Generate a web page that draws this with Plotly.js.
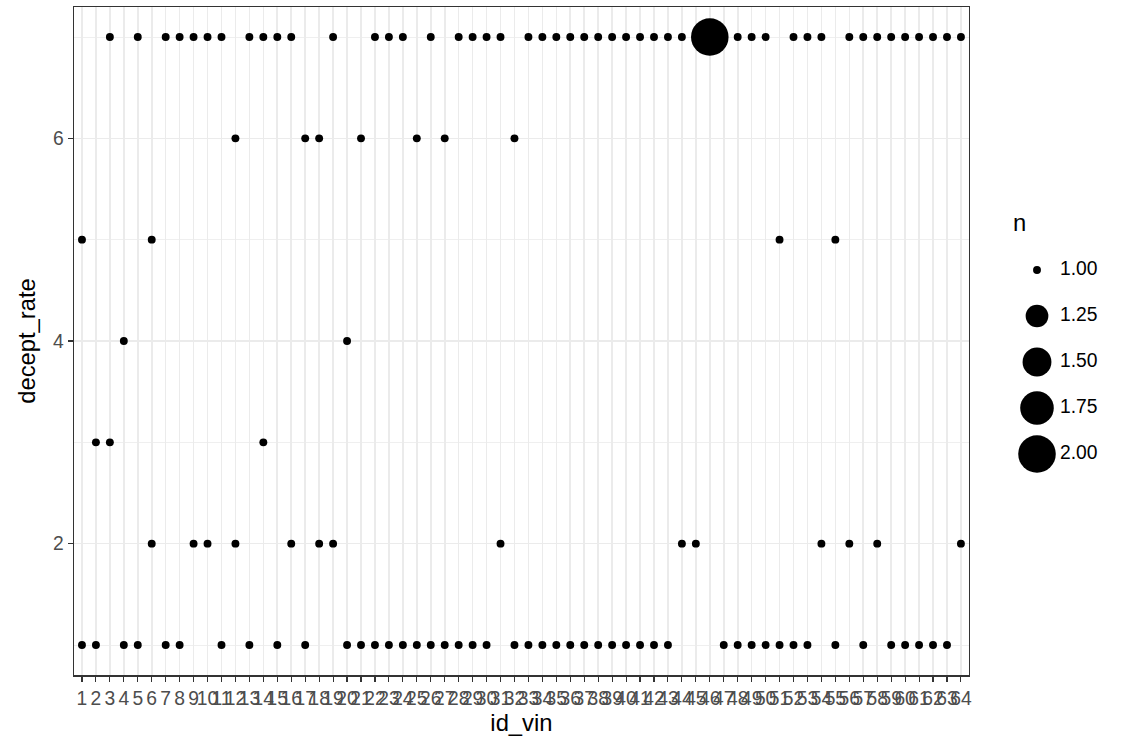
<!DOCTYPE html>
<html>
<head>
<meta charset="utf-8">
<script src="https://cdn.plot.ly/plotly-3.0.1.min.js"></script>
<style>html,body{margin:0;padding:0;background:#fff;}#chart{width:1131px;height:749px;}</style>
</head>
<body>
<div id="chart"></div>
<script>
// ---- data ----
const rate7Ids = [3,5,7,8,9,10,11,13,14,15,16,19,22,23,24,26,28,29,30,31,33,34,35,36,37,38,39,40,41,42,43,44,46,48,49,50,52,53,54,56,57,58,59,60,61,62,63,64];
const rate6Ids = [12,17,18,21,25,27,32];
const rate5Ids = [1,6,51,55];
const rate4Ids = [4,20];
const rate3Ids = [2,3,14];
const rate2Ids = [6,9,10,12,16,18,19,31,44,45,54,56,58,64];
const rate1Ids = [1,2,4,5,7,8,11,13,15,17,20,21,22,23,24,25,26,27,28,29,30,32,33,34,35,36,37,38,39,40,41,42,43,47,48,49,50,51,52,53,55,57,59,60,61,62,63];
// counts n: all 1 except the (id 46, rate 7) pair which occurs twice
const nDouble = [{id:46, rate:7, n:2}];
const idTicks = Array.from({length:64}, (_, i) => i + 1);
const yTicks = [2, 4, 6];
const legendN = [1.00, 1.25, 1.50, 1.75, 2.00];
const legendLabels = ["1.00", "1.25", "1.50", "1.75", "2.00"];

// ---- build points ----
const byRate = {7:rate7Ids, 6:rate6Ids, 5:rate5Ids, 4:rate4Ids, 3:rate3Ids, 2:rate2Ids, 1:rate1Ids};
const xs = [], ys = [], ns = [];
Object.keys(byRate).forEach(r => {
  byRate[r].forEach(id => {
    const d = nDouble.find(o => o.id === id && o.rate === +r);
    xs.push(id); ys.push(+r); ns.push(d ? d.n : 1);
  });
});
// ggplot-like area size scale, range 1..6 (mm) -> px diameter
const nMin = 1, nMax = 2;
function sizePx(n) {
  const s = 1 + 5 * Math.sqrt((n - nMin) / (nMax - nMin));
  return s * 5.93 + 1.97;
}

const W = 1131, H = 749;
const px = (p) => p / W;
const py = (p) => 1 - p / H;

const FONT = "Liberation Sans, Arial, sans-serif";
const TICK = 19.3, TITLE = 23.8;

const traces = [
  {
    type: "scatter", mode: "markers", x: xs, y: ys,
    marker: {color: "#000000", opacity: 1, size: ns.map(sizePx), line: {width: 0}},
    xaxis: "x", yaxis: "y", showlegend: false, hoverinfo: "x+y"
  },
  {
    type: "scatter", mode: "markers", x: legendN.map(() => 37), y: legendN,
    marker: {color: "#000000", opacity: 1, size: legendN.map(sizePx), line: {width: 0}},
    xaxis: "x2", yaxis: "y2", showlegend: false, hoverinfo: "skip"
  },
  {
    type: "scatter", mode: "text", x: legendN.map(() => 60), y: legendN,
    text: legendLabels, textposition: "middle right",
    textfont: {family: FONT, size: TICK, color: "#000000"},
    xaxis: "x2", yaxis: "y2", showlegend: false, hoverinfo: "skip"
  }
];

const layout = {
  width: W, height: H,
  margin: {l: 0, r: 0, t: 0, b: 0},
  paper_bgcolor: "#ffffff", plot_bgcolor: "#ffffff",
  font: {family: FONT, color: "#000000"},
  showlegend: false,
  xaxis: {
    domain: [px(73.6), px(969.3)],
    range: [0.4, 64.6],
    tickmode: "array", tickvals: idTicks, ticktext: idTicks.map(String),
    tickangle: 0,
    ticks: "outside", ticklen: 5, tickwidth: 1.1, tickcolor: "#333333",
    tickfont: {family: FONT, size: TICK, color: "#4D4D4D"},
    showgrid: true, gridcolor: "#EBEBEB", gridwidth: 1.6,
    zeroline: false,
    showline: true, linecolor: "#333333", linewidth: 1.1, mirror: true,
    title: {text: "id_vin", font: {family: FONT, size: TITLE, color: "#000000"}, standoff: 4},
    automargin: false
  },
  yaxis: {
    domain: [py(675.4), py(6.6)],
    range: [0.7, 7.3],
    tickmode: "array", tickvals: yTicks, ticktext: yTicks.map(String),
    ticks: "outside", ticklen: 5, tickwidth: 1.1, tickcolor: "#333333",
    tickfont: {family: FONT, size: TICK, color: "#4D4D4D"},
    showgrid: true, gridcolor: "#EBEBEB", gridwidth: 1.6,
    minor: {tickvals: [1, 3, 5, 7], showgrid: true, gridcolor: "#EBEBEB", gridwidth: 0.8, ticks: ""},
    zeroline: false,
    showline: true, linecolor: "#333333", linewidth: 1.1, mirror: true,
    title: {text: "decept_rate", font: {family: FONT, size: TITLE, color: "#000000"}, standoff: 10},
    automargin: false
  },
  xaxis2: {
    domain: [px(1000), px(1120)], range: [0, 120], anchor: "y2",
    visible: false, showgrid: false, zeroline: false, fixedrange: true
  },
  yaxis2: {
    domain: [py(477), py(247)], range: [2.125, 0.875], anchor: "x2",
    visible: false, showgrid: false, zeroline: false, fixedrange: true
  },
  annotations: [
    {text: "n", xref: "paper", yref: "paper", x: px(1011), y: py(222),
     xanchor: "left", yanchor: "middle", showarrow: false,
     font: {family: FONT, size: TITLE, color: "#000000"}}
  ]
};

Plotly.newPlot("chart", traces, layout, {displayModeBar: false, staticPlot: true});
</script>
</body>
</html>
